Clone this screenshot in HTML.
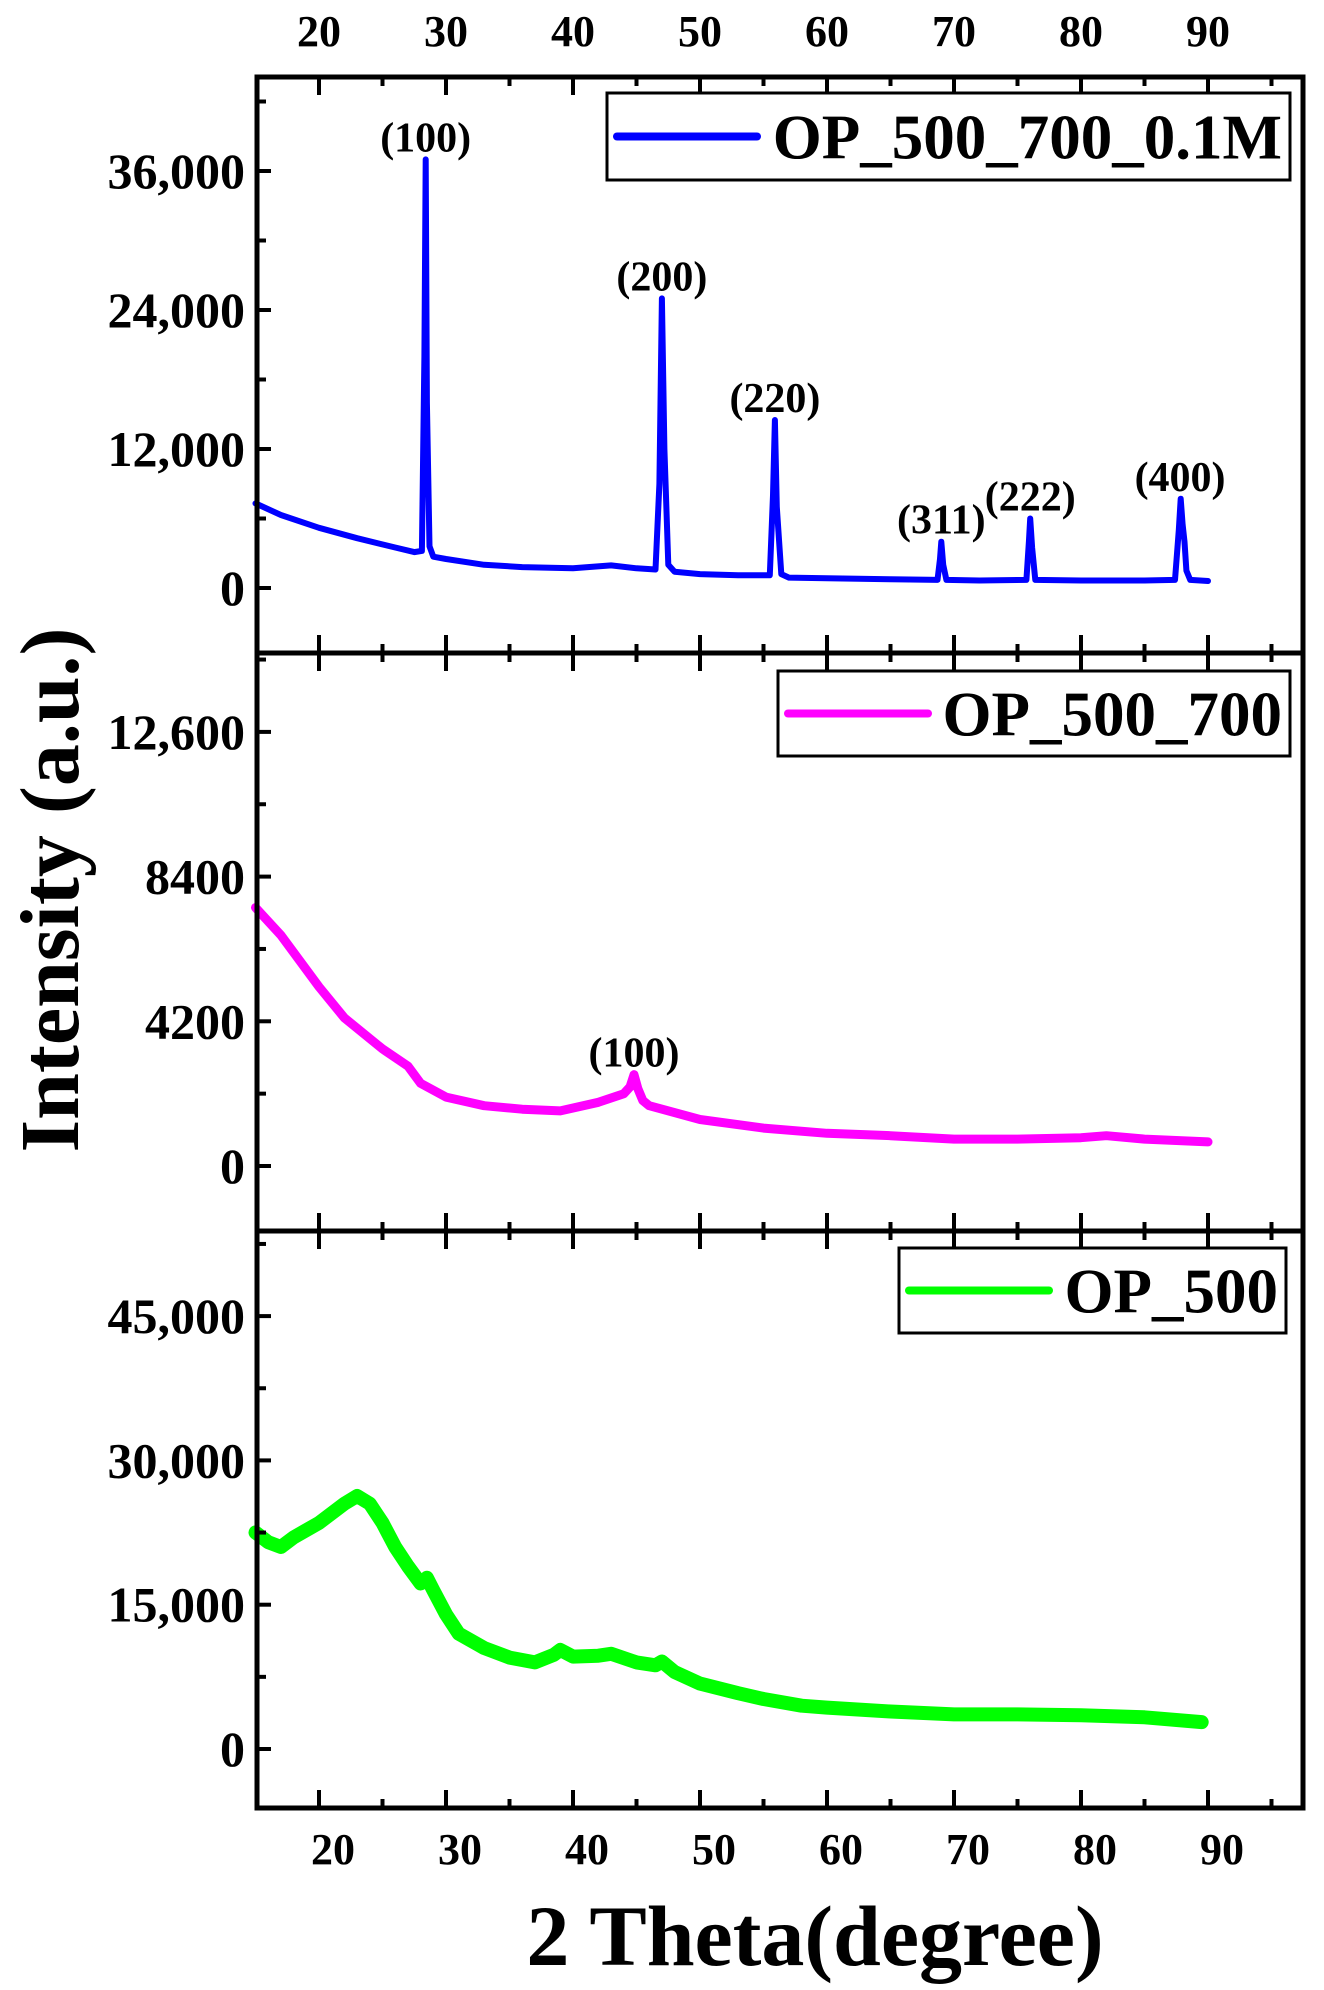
<!DOCTYPE html>
<html><head><meta charset="utf-8"><style>
html,body{margin:0;padding:0;background:#fff}
svg{display:block}
text{font-family:"Liberation Serif",serif;font-weight:bold;fill:#000}
</style></head><body>
<svg id="chart" width="1324" height="1990" viewBox="0 0 1324 1990" xmlns="http://www.w3.org/2000/svg">
<text transform="translate(78,890) rotate(-90)" text-anchor="middle" font-size="84">Intensity (a.u.)</text>
<text x="815" y="1965" text-anchor="middle" font-size="86">2 Theta(degree)</text>
</svg>
<script>
const xTicks=[20,30,40,50,60,70,80,90];
// Panel 1: OP_500_700_0.1M
const p1X=[15,17,20,23,26,27.5,28.1,28.3,28.4,28.5,28.7,29,30,33,36,40,43,45,46.5,46.8,47.0,47.2,47.5,48,50,53,55.5,55.75,55.9,56.05,56.4,57,60,65,68.7,68.9,69.0,69.15,69.4,72,75.7,75.9,76.0,76.15,76.4,80,85,87.4,87.7,87.85,88.0,88.15,88.3,88.6,90];
const p1Y=[7300,6300,5200,4300,3500,3100,3200,20000,37000,16000,3600,2700,2500,2000,1800,1700,1950,1700,1600,9000,25000,12000,2000,1400,1200,1100,1100,8000,14500,7000,1200,900,850,750,700,2500,4000,2000,700,650,700,4000,6000,3500,700,650,650,700,5000,7700,5500,4000,1500,700,600];
const p1Ticks=[0,12000,24000,36000];
const p1TickLabels=["0","12,000","24,000","36,000"];
// Panel 2: OP_500_700
const p2X=[15,17,20,22,25,27,28,30,33,36,39,42,44,44.5,44.8,45.1,45.5,46,50,55,60,65,70,75,80,82,85,90];
const p2Y=[7500,6700,5200,4300,3400,2900,2400,2000,1750,1650,1600,1850,2100,2300,2650,2250,1900,1750,1350,1100,950,880,780,780,820,880,780,700];
const p2Ticks=[0,4200,8400,12600];
const p2TickLabels=["0","4200","8400","12,600"];
// Panel 3: OP_500
const p3X=[15,16,17,18,20,22,23,24,25,26,27,28,28.5,29,30,31,33,35,37,38.5,39,40,42,43,45,46.5,47,48,50,53,55,58,60,65,70,75,80,85,89.5];
const p3Y=[22500,21500,21000,22000,23500,25500,26300,25500,23500,21000,19000,17200,17800,16500,14000,12000,10500,9500,9000,9800,10300,9600,9700,9900,9000,8700,9100,8000,6800,5800,5200,4500,4300,3900,3600,3600,3500,3300,2800];
const p3Ticks=[0,15000,30000,45000];
const p3TickLabels=["0","15,000","30,000","45,000"];
const p1Labels=["(100)","(200)","(220)","(311)","(222)","(400)"];
const p1LabelX=[28.4,47.0,55.9,69.0,76.0,87.8];
const p1LabelY=[37000,25000,14500,4000,6000,7700];
const p2Labels=["(100)"];
const p2LabelX=[44.8];
const p2LabelY=[2650];

const svg=document.getElementById('chart');
const NS='http://www.w3.org/2000/svg';
const X0=257,X1=1303;
function xs(v){return 319+(v-20)*12.7;}
function mk(tag,attrs){const e=document.createElementNS(NS,tag);for(const k in attrs)e.setAttribute(k,attrs[k]);svg.appendChild(e);return e;}

const panels=[
 {top:77,bot:653,y0:588,ppu:139/12000,xs:p1X,ys:p1Y,ticks:p1Ticks,tl:p1TickLabels,minor:6000,color:'#0000ff',sw:6,
  leg:{x:607,y:93,w:683,h:87,text:'OP_500_700_0.1M'},labels:p1Labels,lx:p1LabelX,ly:p1LabelY,name:'op-500-700-0-1m'},
 {top:653,bot:1231,y0:1166,ppu:144.7/4200,xs:p2X,ys:p2Y,ticks:p2Ticks,tl:p2TickLabels,minor:2100,color:'#ff00ff',sw:9,
  leg:{x:778,y:671,w:512,h:85,text:'OP_500_700'},labels:p2Labels,lx:p2LabelX,ly:p2LabelY,name:'op-500-700'},
 {top:1231,bot:1808,y0:1749,ppu:144.3/15000,xs:p3X,ys:p3Y,ticks:p3Ticks,tl:p3TickLabels,minor:7500,color:'#00ff00',sw:14,
  leg:{x:899,y:1248,w:387,h:85,text:'OP_500'},labels:[],lx:[],ly:[],name:'op-500'}
];

panels.forEach((p,pi)=>{
  const ys=v=>p.y0-v*p.ppu;
  let d='';
  p.xs.forEach((x,i)=>{d+=(i?'L':'M')+xs(x).toFixed(1)+','+ys(p.ys[i]).toFixed(1);});
  const path=mk('path',{d:d,fill:'none',stroke:p.color,'stroke-width':p.sw,'stroke-linejoin':'round','stroke-linecap':'round'});
  
  
  const ymaxv=(p.y0-p.top)/p.ppu;
  for(let v=p.ticks[0]-p.minor*2; v<=ymaxv; v+=p.minor){
    const y=ys(v); if(y<=p.top+3||y>=p.bot-3) continue;
    const major=p.ticks.indexOf(v)>=0;
    const t=mk('line',{x1:X0,x2:X0+(major?14:9),y1:y,y2:y,stroke:'#000','stroke-width':4});
    
    
  }
  p.ticks.forEach((v,i)=>{
    const t=mk('text',{x:X0-12,y:ys(v)+17,'text-anchor':'end','font-size':50});
    t.textContent=p.tl[i];
    
    
  });
  for(let v=20; v<=95; v+=5){
    const x=xs(v), major=v%10===0, L=major?18:9;
    const a=mk('line',{x1:x,x2:x,y1:p.top,y2:p.top+L,stroke:'#000','stroke-width':4});
    
    
    const b=mk('line',{x1:x,x2:x,y1:p.bot,y2:p.bot-L,stroke:'#000','stroke-width':4});
    
    
  }
  const fr=mk('rect',{x:X0,y:p.top,width:X1-X0,height:p.bot-p.top,fill:'none',stroke:'#000','stroke-width':5});
  
  
  const g=p.leg;
  const lb=mk('rect',{x:g.x,y:g.y,width:g.w,height:g.h,fill:'#fff',stroke:'#000','stroke-width':3});
  
  
  const ll=mk('line',{x1:g.x+10,x2:g.x+150,y1:g.y+g.h/2,y2:g.y+g.h/2,stroke:p.color,'stroke-width':8,'stroke-linecap':'round'});
  
  
  const lt=mk('text',{x:g.x+g.w-8,y:g.y+g.h/2+22,'text-anchor':'end','font-size':63});
  lt.textContent=g.text;
  
  
  p.labels.forEach((s,i)=>{
    const t=mk('text',{x:xs(p.lx[i]),y:ys(p.ly[i])-8,'text-anchor':'middle','font-size':42});
    t.textContent=s;
    
    
  });
});
xTicks.forEach(v=>{
  const a=mk('text',{x:xs(v),y:46,'text-anchor':'middle','font-size':44});
  a.textContent=v;
  
  
  const b=mk('text',{x:xs(v)+14,y:1864,'text-anchor':'middle','font-size':44});
  b.textContent=v;
  
  
});
</script>
</body></html>
